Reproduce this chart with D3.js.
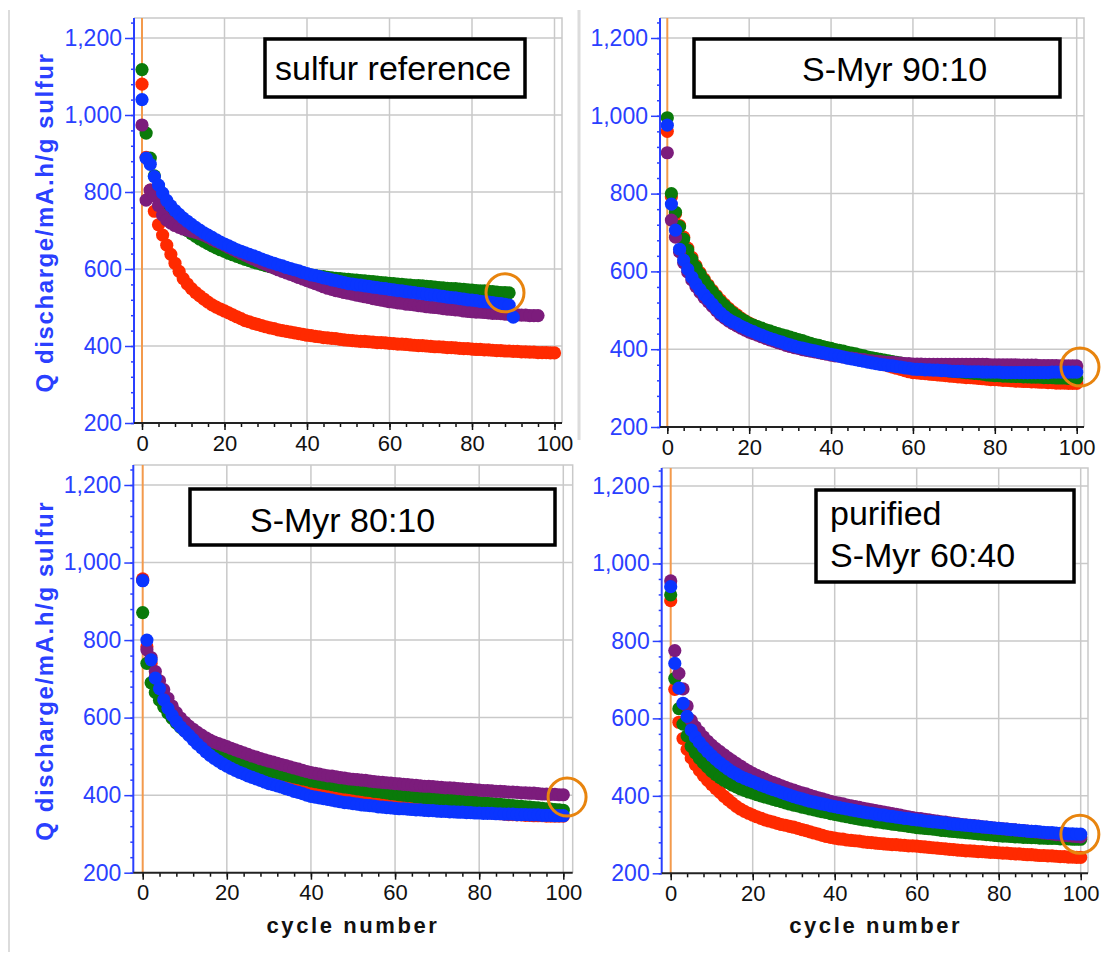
<!DOCTYPE html>
<html>
<head>
<meta charset="utf-8">
<script src="https://cdn.jsdelivr.net/npm/d3@7"></script>
<style>
  body { margin: 0; background: #fff; }
  svg { display: block; font-family: "Liberation Sans", Arial, sans-serif; }
</style>
</head>
<body>
<svg id="chart" width="1105" height="955"></svg>
<script>
// ─── Data (one value per cycle) ──────────────────────────────────────────────
const seriesNames  = ["red", "green", "purple", "blue"];      // draw order
const seriesColors = { red: "#ff2a00", green: "#0a7a0a", purple: "#7c1c7c", blue: "#0a35ff" };

const panelTitles = [["sulfur reference"], ["S-Myr 90:10"], ["S-Myr 80:10"], ["purified", "S-Myr 60:40"]];

const yMajorTicks = [200, 400, 600, 800, 1000, 1200];
const yMinorTicks = d3.range(200, 1260, 40);
const xMajorTicks = [0, 20, 40, 60, 80, 100];
const xMinorTicks = d3.range(0, 101, 4);

// sulfur reference
const refGreen = [1118,953,888,842,810,785,765,748,733,720,709,700,692,685,678,672,666,660,655,650,646,641,637,633,629,625,622,618,615,612,609,606,603,600,598,596,594,592,590,588,586,584,583,581,580,578,577,576,575,574,573,572,571,570,569,568,567,566,565,564,563,562,561,560,559,558,557,557,556,555,554,553,552,551,550,549,549,548,547,546,545,544,543,543,542,541,540,539,539,538];
const refBlue = [1040,888,872,840,818,797,778,764,752,742,732,724,716,708,701,694,688,682,676,670,665,660,655,650,646,642,638,634,630,626,622,618,615,611,608,604,601,598,595,591,588,585,583,580,577,575,572,570,567,565,562,561,559,558,556,555,553,552,550,549,547,546,544,543,541,540,539,537,536,534,533,532,530,529,527,526,525,523,522,520,519,518,516,515,514,513,511,510,508,506,475];
const refPurple = [974,779,805,790,765,740,727,719,713,708,704,701,698,695,692,688,683,677,672,667,662,656,651,646,641,636,631,626,621,616,612,607,603,598,594,590,586,582,578,574,570,566,562,558,554,550,547,544,542,539,537,535,532,530,528,526,523,521,519,517,515,514,512,511,509,508,507,505,504,502,501,500,499,497,496,495,494,493,491,490,489,488,488,487,486,485,485,484,483,482,481,481,480,480,479,479,479];
const refRed = [1080,890,805,750,715,688,662,638,615,594,575,561,549,539,530,522,514,507,501,496,491,486,481,476,471,466,463,459,456,453,450,447,445,442,440,438,436,434,432,430,428,427,425,424,422,421,420,419,417,416,415,414,413,412,412,411,410,409,409,408,407,406,405,405,404,403,402,401,401,400,399,398,398,397,396,396,395,394,393,393,392,391,391,390,390,389,388,388,387,387,386,386,385,385,384,384,383,383,383,382,382];

// S-Myr 90:10
const m90Green = [995,800,752,715,683,655,631,611,593,577,562,548,535,522,512,502,493,485,478,472,466,462,458,454,450,447,443,440,437,434,431,428,425,422,418,415,412,410,407,404,402,399,397,395,392,390,388,385,383,380,378,376,374,372,370,368,366,364,362,360,358,356,355,353,352,350,349,347,346,344,343,342,341,340,339,338,337,336,334,333,332,332,331,331,330,330,330,329,329,328,328,328,327,327,327,326,326,326,325,325,325];
const m90Red = [960,792,748,718,688,660,636,615,597,580,565,551,538,526,515,505,496,488,480,473,467,462,457,453,449,445,441,437,433,430,427,424,420,417,414,411,409,406,404,401,399,396,393,390,387,384,381,378,375,372,369,366,363,360,357,354,351,348,345,342,340,339,338,337,336,335,334,333,332,331,330,329,328,327,327,326,325,324,323,322,322,321,320,320,319,318,318,317,317,316,316,315,315,314,314,313,313,313,312,312,312];
const m90Blue = [976,773,706,657,629,605,585,568,553,540,528,516,504,493,484,476,470,465,459,454,449,445,440,436,432,428,425,421,418,414,411,408,405,403,400,398,396,393,391,389,387,385,382,380,377,375,373,371,369,367,365,363,361,360,358,357,355,354,352,351,349,348,348,347,347,346,346,345,345,344,343,343,343,342,342,342,342,341,341,341,341,341,340,340,340,340,340,340,340,340,340,340,340,340,341,341,341,341,341,341,341];
const m90Purple = [905,732,688,650,622,598,578,561,546,533,522,510,499,488,480,472,466,460,454,449,444,440,436,432,428,424,421,417,414,410,407,404,402,399,397,395,393,391,389,387,385,383,382,380,378,377,376,374,373,371,370,369,368,367,366,366,365,364,363,363,362,362,362,361,361,361,361,361,361,361,361,361,361,361,361,361,361,361,361,360,360,360,360,360,360,360,359,359,359,359,359,358,358,358,358,358,357,357,357,357,357];

// S-Myr 80:10
const m80Green = [871,740,690,665,645,628,612,598,586,575,566,557,549,542,535,529,523,517,512,507,502,497,493,489,485,481,477,474,470,467,464,461,458,455,452,450,447,445,442,440,437,435,433,431,429,427,425,423,421,420,418,416,415,413,412,410,409,407,406,404,403,401,400,399,398,396,395,394,393,392,391,390,389,388,387,386,385,384,383,382,381,380,379,378,377,376,375,374,373,372,371,370,369,368,367,366,365,364,363,362,361];
const m80Red = [958,783,740,705,678,650,628,610,594,580,568,557,547,538,529,521,514,508,502,497,492,487,483,478,474,470,466,462,459,456,453,450,447,444,441,438,435,432,430,427,425,423,420,418,416,414,412,410,408,406,404,402,400,399,397,395,394,392,391,389,388,386,385,383,382,380,378,376,374,372,370,369,367,366,365,363,362,361,360,358,357,356,355,354,353,352,351,350,350,349,349,348,348,347,347,347,346,346,346,346,346];
const m80Blue = [953,800,749,702,675,646,624,606,590,576,565,554,543,532,522,512,503,495,488,481,475,469,464,459,455,450,446,442,438,434,430,427,424,421,417,414,410,407,404,400,397,395,393,391,389,387,385,383,381,380,378,377,375,374,373,372,370,369,368,367,366,365,365,364,363,362,362,361,360,360,359,358,358,357,357,356,356,355,355,354,354,353,353,353,352,352,351,351,351,350,350,350,349,349,349,348,348,348,347,347,347];
const m80Purple = [955,775,755,719,695,672,650,630,613,599,588,578,570,562,555,548,542,537,533,529,525,521,517,513,509,505,501,498,494,491,488,485,482,479,476,473,470,467,464,461,458,456,454,452,450,449,447,445,444,442,441,440,439,438,436,435,434,433,432,431,430,429,428,427,426,425,424,423,423,422,421,420,419,419,418,417,416,415,415,414,413,412,412,411,410,410,409,408,408,407,406,406,405,405,404,403,403,402,402,401,401];

// purified S-Myr 60:40
const m60Green = [919,703,625,585,555,528,511,497,485,474,463,455,447,440,434,428,423,418,414,410,407,403,400,397,394,391,388,385,382,379,376,374,371,369,366,364,361,359,357,354,352,350,348,346,344,342,340,338,337,335,333,332,330,329,327,326,324,323,321,320,318,317,316,315,314,313,311,310,309,308,307,306,305,304,303,302,301,300,299,298,297,296,296,295,294,294,293,293,292,292,291,291,290,290,290,289,289,289,288,288,288];
const m60Red = [904,675,590,548,520,498,481,466,452,440,429,419,409,399,390,381,373,366,360,355,350,346,342,338,335,332,329,326,324,321,319,316,313,310,307,304,301,298,295,293,291,289,288,286,285,284,283,281,280,279,278,277,276,275,274,274,273,272,271,271,270,269,268,267,266,265,264,263,262,261,260,259,258,258,257,256,256,255,254,254,253,252,252,251,250,250,249,248,248,247,246,246,245,245,244,243,243,242,242,241,241];
const m60Blue = [940,742,678,639,605,570,552,538,525,514,504,494,485,477,469,462,456,450,445,441,437,432,428,424,420,416,413,409,405,402,398,395,392,389,386,384,381,379,377,374,372,370,368,366,364,362,360,358,356,355,353,351,350,348,347,345,344,342,341,339,338,337,335,334,333,332,331,330,328,327,326,325,324,323,322,321,320,319,318,317,316,315,314,313,312,311,310,309,308,308,307,306,305,305,304,303,303,302,302,301,301];
const m60Purple = [955,775,716,676,632,595,578,565,552,541,531,522,514,506,498,491,484,477,470,464,458,453,448,443,438,434,430,426,422,418,415,411,408,405,401,398,395,392,389,386,383,381,379,376,374,372,370,368,366,364,362,360,358,356,354,352,350,348,346,344,342,341,339,338,336,335,333,332,330,329,328,326,325,324,323,322,320,319,318,317,316,315,314,313,312,311,310,309,308,307,306,304,303,302,300,299,298,297,296,295,294];

// highlighted end points (orange rings)
const ringCycles = [88, 100.8, 100.9, 99.8];
const ringValues = [538, 354, 395, 301];

const panelSeries = [
    { red: refRed, green: refGreen, purple: refPurple, blue: refBlue },
    { red: m90Red, green: m90Green, purple: m90Purple, blue: m90Blue },
    { red: m80Red, green: m80Green, purple: m80Purple, blue: m80Blue },
    { red: m60Red, green: m60Green, purple: m60Purple, blue: m60Blue },
];

// ─── Layout (pixel geometry of each pasted panel) ────────────────────────────
const layout = [
    { left: 134,   right: 562,  top: 18,  x0: 142,   x100: 554.5,  y200: 423,   y1200: 38,
      box: [265, 39, 260, 58],  lines: [[275, 80]],             xLabel: false, yLabel: true },
    { left: 660,   right: 1084, top: 18,  x0: 667.3, x100: 1076.7, y200: 427,   y1200: 38,
      box: [694, 39, 366, 58],  lines: [[802, 81]],             xLabel: false, yLabel: false },
    { left: 133.3, right: 572.7, top: 465, x0: 142.7, x100: 563.3, y200: 872.7, y1200: 485,
      box: [190, 489, 365, 56], lines: [[250, 532]],            xLabel: true,  yLabel: true },
    { left: 661.7, right: 1088, top: 468, x0: 670.7, x100: 1080.7, y200: 873.3, y1200: 486,
      box: [816, 490, 258, 92], lines: [[830, 525], [830, 567]], xLabel: true,  yLabel: false },
];

const BLUE_TEXT = "#2a40ff";
const GRID = "#c9c9c9";
const svg = d3.select("#chart");

// faint separators of the pasted screenshots
svg.append("line").attr("x1", 9).attr("x2", 9).attr("y1", 10).attr("y2", 952)
    .attr("stroke", "#dcdcdc").attr("stroke-width", 2);
svg.append("line").attr("x1", 579).attr("x2", 579).attr("y1", 10).attr("y2", 440)
    .attr("stroke", "#dcdcdc").attr("stroke-width", 3);

layout.forEach((L, i) => {
    const g = svg.append("g");
    const x = d3.scaleLinear().domain([0, 100]).range([L.x0, L.x100]);
    const y = d3.scaleLinear().domain([200, 1200]).range([L.y200, L.y1200]);

    // grid
    g.selectAll(".vgrid").data(xMajorTicks.slice(1)).join("line")
        .attr("x1", d => x(d)).attr("x2", d => x(d))
        .attr("y1", L.top).attr("y2", L.y200)
        .attr("stroke", GRID).attr("stroke-width", 1.5);
    g.selectAll(".hgrid").data(yMajorTicks.slice(1)).join("line")
        .attr("x1", L.left).attr("x2", L.right)
        .attr("y1", d => y(d)).attr("y2", d => y(d))
        .attr("stroke", GRID).attr("stroke-width", 1.5);
    // frame top / right
    g.append("path")
        .attr("d", `M${L.left},${L.top}H${L.right}V${L.y200}`)
        .attr("fill", "none").attr("stroke", GRID).attr("stroke-width", 1.5);

    // orange line at cycle 0
    g.append("line")
        .attr("x1", x(0)).attr("x2", x(0)).attr("y1", L.top).attr("y2", L.y200)
        .attr("stroke", "#f39a4c").attr("stroke-width", 2);

    // points
    const series = panelSeries[i];
    seriesNames.forEach(name => {
        g.append("g").selectAll("circle")
            .data(series[name])
            .join("circle")
            .attr("cx", (d, c) => x(c))
            .attr("cy", d => y(d))
            .attr("r", 6.6)
            .attr("fill", seriesColors[name]);
    });

    // y axis (blue)
    const yMinor = g.append("g").attr("transform", `translate(${L.left},0)`)
        .call(d3.axisLeft(y).tickValues(yMinorTicks).tickSize(3).tickFormat(""));
    const yMajor = g.append("g").attr("transform", `translate(${L.left},0)`)
        .call(d3.axisLeft(y).tickValues(yMajorTicks).tickSize(9).tickPadding(3).tickFormat(d3.format(",")));
    [yMinor, yMajor].forEach(a => {
        a.select(".domain").remove();
        a.selectAll("line").attr("stroke", BLUE_TEXT).attr("stroke-width", 1.5);
    });
    yMajor.selectAll("text").attr("fill", BLUE_TEXT).style("font-size", "23px")
        .style("font-family", "'Liberation Sans', Arial, sans-serif");
    g.append("line").attr("x1", L.left).attr("x2", L.left).attr("y1", L.top).attr("y2", L.y200)
        .attr("stroke", BLUE_TEXT).attr("stroke-width", 2);

    // x axis (black)
    const xMinor = g.append("g").attr("transform", `translate(0,${L.y200})`)
        .call(d3.axisBottom(x).tickValues(xMinorTicks).tickSize(4).tickFormat(""));
    const xMajor = g.append("g").attr("transform", `translate(0,${L.y200})`)
        .call(d3.axisBottom(x).tickValues(xMajorTicks).tickSize(7).tickPadding(5).tickFormat(d3.format("d")));
    [xMinor, xMajor].forEach(a => {
        a.select(".domain").remove();
        a.selectAll("line").attr("stroke", "#111").attr("stroke-width", 1.5);
    });
    xMajor.selectAll("text").attr("fill", "#111").style("font-size", "22px")
        .style("font-family", "'Liberation Sans', Arial, sans-serif");
    g.append("line").attr("x1", L.left).attr("x2", L.right).attr("y1", L.y200).attr("y2", L.y200)
        .attr("stroke", "#222").attr("stroke-width", 2);

    // title box
    const [bx, by, bw, bh] = L.box;
    g.append("rect").attr("x", bx).attr("y", by).attr("width", bw).attr("height", bh)
        .attr("fill", "#fff").attr("stroke", "#000").attr("stroke-width", 3.5);
    panelTitles[i].forEach((t, k) => {
        g.append("text").attr("x", L.lines[k][0]).attr("y", L.lines[k][1])
            .attr("font-size", 34).attr("fill", "#000").text(t);
    });

    // orange ring
    g.append("circle")
        .attr("cx", x(ringCycles[i])).attr("cy", y(ringValues[i])).attr("r", 19)
        .attr("fill", "none").attr("stroke", "#e8840e").attr("stroke-width", 3);

    // axis titles
    if (L.yLabel) {
        const cy = (L.top + L.y200) / 2 + 2;
        g.append("text")
            .attr("transform", `translate(53,${cy}) rotate(-90)`)
            .attr("text-anchor", "middle")
            .attr("font-size", 24).attr("font-weight", "bold")
            .attr("letter-spacing", 1.6)
            .attr("fill", BLUE_TEXT)
            .text("Q discharge/mA.h/g sulfur");
    }
    if (L.xLabel) {
        g.append("text")
            .attr("x", (L.x0 + L.x100) / 2).attr("y", 933)
            .attr("text-anchor", "middle")
            .attr("font-size", 22).attr("font-weight", "bold")
            .attr("letter-spacing", 2.6)
            .attr("fill", "#111")
            .text("cycle number");
    }
});
</script>
</body>
</html>
